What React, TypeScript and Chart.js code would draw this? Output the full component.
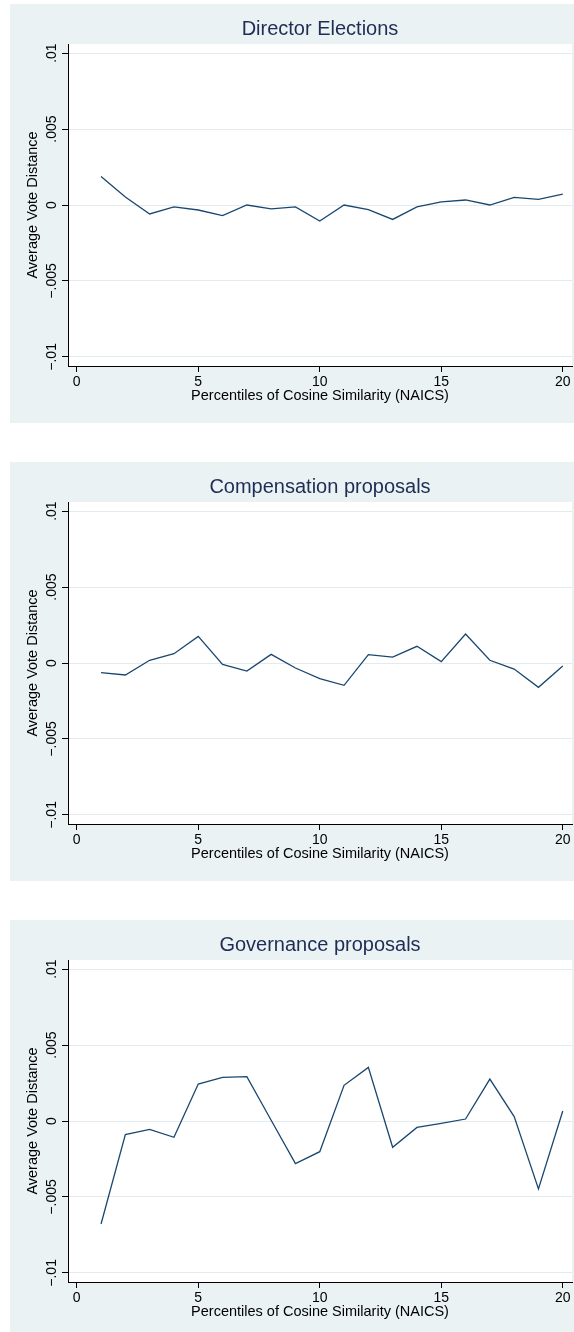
import React, { useEffect, useRef } from "react";
import { Chart, registerables } from "chart.js";

Chart.register(...registerables);

// ---- data ----
const PERCENTILES = [1, 2, 3, 4, 5, 6, 7, 8, 9, 10, 11, 12, 13, 14, 15, 16, 17, 18, 19, 20];

const DIRECTOR_ELECTIONS = [
  0.00188, 0.00053, -0.00059, -0.00013, -0.00033, -0.0007, 0.0, -0.00026, -0.00013, -0.00105,
  0.0, -0.00031, -0.00095, -0.00013, 0.0002, 0.00033, 0.0, 0.0005, 0.00037, 0.00072,
];

const COMPENSATION_PROPOSALS = [
  -0.00064, -0.00079, 0.00018, 0.00061, 0.00175, -0.00009, -0.00053, 0.00057, -0.00033, -0.00103,
  -0.00147, 0.00055, 0.00039, 0.0011, 0.00009, 0.00191, 0.00018, -0.0004, -0.0016, -0.0002,
];

const GOVERNANCE_PROPOSALS = [
  -0.00678, -0.0009, -0.00055, -0.00107, 0.00243, 0.00287, 0.00292, 0.00005, -0.00281, -0.00202,
  0.00235, 0.00353, -0.00173, -0.00042, -0.00015, 0.00013, 0.00276, 0.00029, -0.00447, 0.00066,
];

const PANEL_TITLES = ["Director Elections", "Compensation proposals", "Governance proposals"];

const Y_TICKS = [-0.01, -0.005, 0, 0.005, 0.01];
const Y_TICK_LABELS = ["\u2212.01", "\u2212.005", "0", ".005", ".01"];
const X_TICKS = [0, 5, 10, 15, 20];

const Y_TITLE = "Average Vote Distance";
const X_TITLE = "Percentiles of Cosine Similarity (NAICS)";

// ---- style ----
const FONT = '"Liberation Sans", Arial, Helvetica, sans-serif';
const PANEL_BG = "#eaf2f3";
const GRID_COLOR = "#e3ebee";
const LINE_COLOR = "#1a476f";
const TITLE_COLOR = "#1e2d55";

const CANVAS_W = 564;
const CANVAS_H = 419;
const TICK_FONT_SIZE = 14;
const AXIS_TITLE_SIZE = 14.5;

const plotBgPlugin = {
  id: "plotBg",
  beforeDraw(chart: any) {
    const { ctx, chartArea } = chart;
    ctx.save();
    ctx.fillStyle = "#ffffff";
    ctx.fillRect(chartArea.left, chartArea.top, chartArea.right - chartArea.left, chartArea.bottom - chartArea.top);
    ctx.restore();
  },
};

function Panel({ title, values, top, height }: { title: string; values: number[]; top: number; height: number }) {
  const ref = useRef<HTMLCanvasElement | null>(null);

  useEffect(() => {
    const canvas = ref.current!;
    const c2d = canvas.getContext("2d")!;
    c2d.font = `${TICK_FONT_SIZE}px ${FONT}`;
    const widest = Math.max(...Y_TICK_LABELS.map((l) => c2d.measureText(l).width));
    const yAxisWidth = 58;
    const tickLen = 6;
    const labelCenter = 41.7;
    const yTickPadding = yAxisWidth - tickLen - widest / 2 - labelCenter;

    const chart = new Chart(canvas, {
      type: "line",
      data: {
        datasets: [
          {
            data: PERCENTILES.map((p, i) => ({ x: p, y: values[i] })),
            borderColor: LINE_COLOR,
            borderWidth: 1.3,
            pointRadius: 0,
            tension: 0,
            fill: false,
          },
        ],
      },
      options: {
        responsive: false,
        animation: false,
        devicePixelRatio: 1,
        layout: { padding: { left: 0, right: 2, top: 0, bottom: 0 } },
        plugins: {
          legend: { display: false },
          tooltip: { enabled: false },
          title: {
            display: true,
            text: title,
            color: TITLE_COLOR,
            fullSize: false,
            font: { family: FONT, size: 20, weight: "normal", lineHeight: 1.2 },
            padding: { top: 13, bottom: 3 },
          },
        },
        scales: {
          x: {
            type: "linear",
            min: -0.36,
            max: 20.38,
            afterBuildTicks: (scale: any) => {
              scale.ticks = X_TICKS.map((v) => ({ value: v }));
            },
            afterFit: (scale: any) => {
              scale.height = CANVAS_H - 362;
            },
            ticks: {
              autoSkip: false,
              maxRotation: 0,
              minRotation: 0,
              color: "#000000",
              padding: 1.3,
              font: { family: FONT, size: TICK_FONT_SIZE },
              callback: (v: any) => String(v),
            },
            grid: {
              display: true,
              drawOnChartArea: false,
              drawTicks: true,
              tickLength: tickLen,
              tickColor: "#000000",
              tickWidth: 1,
            },
            border: { display: true, color: "#000000", width: 1 },
            title: {
              display: true,
              text: X_TITLE,
              color: "#000000",
              font: { family: FONT, size: AXIS_TITLE_SIZE, lineHeight: 1.2 },
              padding: { top: 0, bottom: 18.6 },
            },
          },
          y: {
            type: "linear",
            min: -0.0106,
            max: 0.0106,
            afterBuildTicks: (scale: any) => {
              scale.ticks = Y_TICKS.map((v) => ({ value: v }));
            },
            afterFit: (scale: any) => {
              scale.width = yAxisWidth;
            },
            ticks: {
              autoSkip: false,
              minRotation: 90,
              maxRotation: 90,
              crossAlign: "center",
              padding: yTickPadding,
              color: "#000000",
              font: { family: FONT, size: TICK_FONT_SIZE },
              callback: (_v: any, i: number) => Y_TICK_LABELS[i],
            },
            grid: {
              display: true,
              drawOnChartArea: true,
              color: GRID_COLOR,
              lineWidth: 1,
              drawTicks: true,
              tickLength: tickLen,
              tickColor: "#000000",
              tickWidth: 1,
            },
            border: { display: true, color: "#000000", width: 1 },
            title: {
              display: true,
              text: Y_TITLE,
              color: "#000000",
              font: { family: FONT, size: AXIS_TITLE_SIZE, lineHeight: 1.2 },
              padding: { top: 14.6, bottom: 0 },
            },
          },
        },
      },
      plugins: [plotBgPlugin],
    } as any);

    return () => chart.destroy();
  }, [title, values]);

  return (
    <div
      style={{
        position: "absolute",
        left: 10,
        top,
        width: CANVAS_W,
        height,
        overflow: "hidden",
        background: PANEL_BG,
      }}
    >
      <canvas ref={ref} width={CANVAS_W} height={CANVAS_H} style={{ display: "block", width: CANVAS_W, height: CANVAS_H }} />
    </div>
  );
}

export default function App() {
  useEffect(() => {
    document.body.style.margin = "0";
    document.body.style.overflow = "hidden";
  }, []);

  return (
    <div style={{ position: "relative", width: 574, height: 1332, overflow: "hidden", background: "#ffffff" }}>
      <Panel title={PANEL_TITLES[0]} values={DIRECTOR_ELECTIONS} top={4} height={419} />
      <Panel title={PANEL_TITLES[1]} values={COMPENSATION_PROPOSALS} top={462} height={419} />
      <Panel title={PANEL_TITLES[2]} values={GOVERNANCE_PROPOSALS} top={920} height={412} />
    </div>
  );
}
